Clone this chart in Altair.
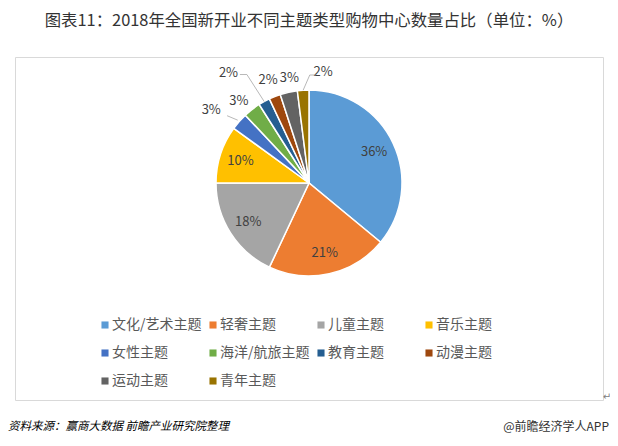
import altair as alt
import pandas as pd

categories = ["文化/艺术主题", "轻奢主题", "儿童主题", "音乐主题", "女性主题",
              "海洋/航旅主题", "教育主题", "动漫主题", "运动主题", "青年主题"]
shares = [36, 21, 18, 10, 3, 3, 2, 2, 3, 2]
colors = ["#5B9BD5", "#ED7D31", "#A5A5A5", "#FFC000", "#4472C4",
          "#70AD47", "#255E91", "#9E480E", "#636363", "#997300"]

title_text = "图表11：2018年全国新开业不同主题类型购物中心数量占比（单位：%）"
source_text = "资料来源：赢商大数据 前瞻产业研究院整理"
brand_text = "@前瞻经济学人APP"

df = pd.DataFrame({"cat": categories, "value": shares, "idx": list(range(len(categories)))})
df["label"] = df["value"].astype(str) + "%"

W, H = 588, 343
CX, CY = 294, 126
R = 93
FONT = "Noto Sans CJK SC"

pie = alt.Chart(df).mark_arc(outerRadius=R, stroke="white", strokeWidth=1.5).encode(
    theta=alt.Theta("value:Q", stack=True),
    order=alt.Order("idx:Q", sort="ascending"),
    color=alt.Color(
        "cat:N",
        scale=alt.Scale(domain=categories, range=colors),
        legend=alt.Legend(
            title=None, orient="none", legendX=83, legendY=261, columns=4,
            direction="horizontal",
            symbolType="square", symbolSize=50, symbolStrokeWidth=0,
            labelFontSize=14, labelFont=FONT, labelColor="#595959",
            labelOffset=0, columnPadding=4, rowPadding=14, gridAlign="all",
            labelLimit=200,
        ),
    ),
    x=alt.value(CX), y=alt.value(CY),
)

# mid-angle of every slice, computed from the shares
angles = alt.Chart(df).transform_window(
    cum="sum(value)", sort=[alt.SortField("idx")], frame=[None, 0]
).transform_joinaggregate(total="sum(value)").transform_calculate(
    ang="2*PI*(datum.cum - datum.value/2)/datum.total"
)


def label_layer(cats, radius, dx=0, dy=0):
    return angles.transform_filter(
        alt.FieldOneOfPredicate(field="cat", oneOf=cats)
    ).transform_calculate(
        lx=f"{CX} + {radius}*sin(datum.ang) + {dx}",
        ly=f"{CY} - {radius}*cos(datum.ang) + {dy}",
    ).mark_text(fontSize=13, font=FONT, color="#404040", baseline="middle").encode(
        text="label:N", x=alt.X("lx:Q", scale=None), y=alt.Y("ly:Q", scale=None)
    )


inner = label_layer(["文化/艺术主题", "轻奢主题", "儿童主题", "音乐主题"], 72)
lab_f = label_layer(["女性主题"], 121, dx=-7, dy=7)
lab_h = label_layer(["海洋/航旅主题"], 108, dx=-4, dy=3)
lab_e = label_layer(["教育主题"], 136, dx=-15, dy=9)
lab_d = label_layer(["动漫主题"], 111)
lab_s = label_layer(["运动主题"], 108, dx=4)
lab_y = label_layer(["青年主题"], 111, dx=21)


def leader(cat, r1, r2, da2=0.0, hlen=0.0):
    d = angles.transform_filter(alt.datum.cat == cat).transform_calculate(
        x1=f"{CX} + {r1}*sin(datum.ang)",
        y1=f"{CY} - {r1}*cos(datum.ang)",
        x2=f"{CX} + {r2}*sin(datum.ang + {da2}*PI/180)",
        y2=f"{CY} - {r2}*cos(datum.ang + {da2}*PI/180)",
    ).transform_calculate(x3=f"datum.x2 + {hlen}")
    seg1 = d.mark_rule(color="#A6A6A6", strokeWidth=0.8).encode(
        x=alt.X("x1:Q", scale=None), y=alt.Y("y1:Q", scale=None),
        x2="x2:Q", y2="y2:Q",
    )
    layers = [seg1]
    if hlen:
        seg2 = d.mark_rule(color="#A6A6A6", strokeWidth=0.8).encode(
            x=alt.X("x2:Q", scale=None), y=alt.Y("y2:Q", scale=None),
            x2="x3:Q",
        )
        layers.append(seg2)
    return layers


lines = []
lines += leader("女性主题", 95, 106, -2)
lines += leader("教育主题", 93, 125, -1, -7)
lines += leader("青年主题", 93, 108, 4, 6)

one_row = alt.Chart(df).transform_filter(alt.datum.idx == 0)

footer_left = one_row.mark_text(
    text=source_text, align="left", baseline="middle", fontSize=11.5, font=FONT,
    fontStyle="italic", color="#000000"
).encode(x=alt.value(-7), y=alt.value(370))

footer_right = one_row.mark_text(
    text=brand_text, align="right", baseline="middle", fontSize=12, font=FONT,
    color="#333333"
).encode(x=alt.value(594), y=alt.value(370))

para_mark = one_row.mark_text(
    text="↵", align="center", baseline="middle", fontSize=10, font="DejaVu Sans",
    color="#808080"
).encode(x=alt.value(592), y=alt.value(340))

chart = alt.layer(
    pie, inner, lab_f, lab_h, lab_e, lab_d, lab_s, lab_y, *lines,
    footer_left, footer_right, para_mark
).properties(
    width=W, height=H,
    title=alt.TitleParams(title_text, fontSize=16.4, font=FONT, fontWeight="normal",
                          color="#333333", anchor="middle", frame="group", dx=0,
                          offset=28),
    autosize=alt.AutoSizeParams(type="none"),
    padding={"left": 7, "top": 49, "right": 7, "bottom": 40},
).configure_view(stroke="#D9D9D9", strokeWidth=1)

chart.save("out.html", embed_options={"renderer": "svg", "actions": False})
